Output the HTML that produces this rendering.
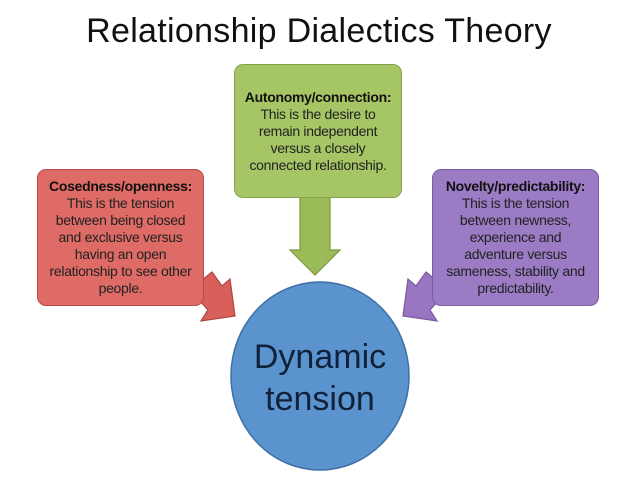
<!DOCTYPE html>
<html><head><style>
body{margin:0;background:#fff;width:638px;height:479px;overflow:hidden;position:relative;font-family:"Liberation Sans",sans-serif}
.t{position:absolute;left:0;width:638px;text-align:center;top:12px;font-size:34px;color:#111;letter-spacing:0.3px}
.box{position:absolute;text-align:center;font-size:14px;line-height:17px;color:#222;border-radius:9px;box-sizing:border-box;display:flex;flex-direction:column;justify-content:center;letter-spacing:-0.3px;white-space:nowrap}
.box b{color:#111}
</style></head><body>
<div class="t">Relationship Dialectics Theory</div>
<svg width="638" height="479" style="position:absolute;left:0;top:0">
<polygon points="300,196 330,196 330,250 340,250 315,275 290,250 300,250" fill="#9bbb59" stroke="#7a9a40" stroke-width="1.2"/>
<polygon points="190,290 212,272 222,286 230,279 235,316 201,321 208,310" fill="#d9605a" stroke="#b04440" stroke-width="1.2"/>
<polygon points="448,290 426,272 416,286 408,279 403,316 437,321 430,310" fill="#9a75c2" stroke="#7a58a0" stroke-width="1.2"/>
<ellipse cx="320" cy="376" rx="89" ry="94" fill="#5b93cf" stroke="#3d6fa5" stroke-width="1.5"/>
<text x="320" y="368" text-anchor="middle" font-size="34" fill="#12213a" font-family="Liberation Sans">Dynamic</text>
<text x="320" y="410" text-anchor="middle" font-size="34" fill="#12213a" font-family="Liberation Sans">tension</text>
</svg>
<div class="box" style="left:234px;top:64px;width:168px;height:134px;background:#a6c565;border:1.5px solid #86a24c"><b>Autonomy/connection:</b>This is the desire to<br>remain independent<br>versus a closely<br>connected relationship.</div>
<div class="box" style="left:37px;top:169px;width:167px;height:137px;background:#df6b66;border:1.5px solid #b84c48"><b>Cosedness/openness:</b>This is the tension<br>between being closed<br>and exclusive versus<br>having an open<br>relationship to see other<br>people.</div>
<div class="box" style="left:432px;top:169px;width:167px;height:137px;background:#9b7bc4;border:1.5px solid #7b5ca5"><b>Novelty/predictability:</b>This is the tension<br>between newness,<br>experience and<br>adventure versus<br>sameness, stability and<br>predictability.</div>
</body></html>
